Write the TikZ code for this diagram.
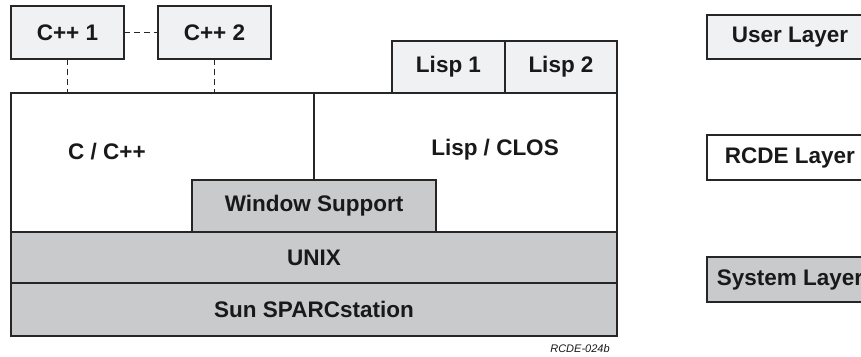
\documentclass[tikz,border=0pt]{standalone}
\usepackage{fontspec}
\setmainfont{Liberation Sans}
\usetikzlibrary{positioning}

\definecolor{edge}{HTML}{262626}
\definecolor{userfill}{HTML}{F0F1F2}
\definecolor{sysfill}{HTML}{C9CACC}

\tikzset{
  every node/.style={font=\fontsize{22.5}{27}\selectfont\bfseries, text=black!90},
  box/.style={draw=edge, line width=1.6pt, inner sep=0pt, outer sep=0pt, anchor=north west},
  user/.style={box, fill=userfill},
  rcde/.style={box, fill=white},
  sys/.style={box, fill=sysfill},
  link/.style={draw=edge, line width=1.8pt, dash pattern=on 6pt off 4pt},
}

\begin{document}
\begin{tikzpicture}[x=1pt, y=-1pt]
  \clip (0,0) rectangle (861,356);

  % RCDE layer cells
  \node[rcde, minimum width=303pt, minimum height=139pt] (ccell) at (11,93) {};
  \node[rcde, minimum width=303pt, minimum height=139pt, right=0pt of ccell] (lispcell) {};
  \node (ctext) at (107,152) {C / C++};
  \node (lisptext) at (495,150) {Lisp / CLOS};

  % User layer: programs on top
  \node[user, minimum width=113pt, minimum height=53pt] (cpp1) at (11,6) {C++ 1};
  \node[user, minimum width=113pt, minimum height=53pt, right=34pt of cpp1] (cpp2) {C++ 2};
  \node[user, minimum width=113pt, minimum height=52pt, anchor=south west] (lisp1) at (392,93) {Lisp 1};
  \node[user, minimum width=112pt, minimum height=52pt, right=0pt of lisp1] (lisp2) {Lisp 2};

  % System layer
  \node[sys, minimum width=244pt, minimum height=52pt] (winsup) at (192,180) {Window Support};
  \node[sys, minimum width=606pt, minimum height=51pt] (unix) at (11,232) {UNIX};
  \node[sys, minimum width=606pt, minimum height=53pt, below=0pt of unix] (sun) {Sun SPARCstation};

  % dashed links
  \draw[link] (cpp1.east) -- (cpp2.west);
  \draw[link] (cpp1.south) -- (cpp1.south |- ccell.north);
  \draw[link] (cpp2.south) -- (cpp2.south |- ccell.north);

  % key
  \node[user, minimum width=166pt, minimum height=44pt] (userkey) at (707,15) {User Layer};
  \node[rcde, minimum width=166pt, minimum height=45pt] (rcdekey) at (707,135) {RCDE Layer};
  \node[sys, minimum width=166pt, minimum height=45pt] (syskey) at (707,257) {System Layer};

  \node[font=\fontsize{11}{13}\selectfont\itshape] (tag) at (580,349) {RCDE-024b};
\end{tikzpicture}
\end{document}
